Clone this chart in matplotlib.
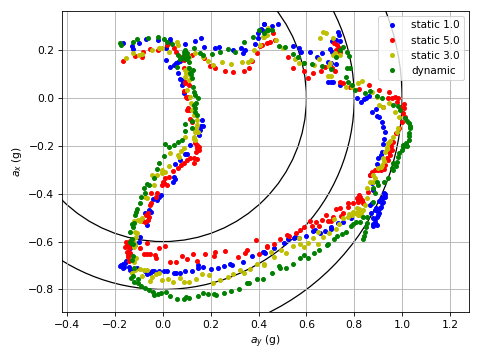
import matplotlib
matplotlib.use("Agg")
import matplotlib.pyplot as plt
from matplotlib.patches import Circle

radii = [0.6, 0.8, 1.0]
labels = ["static 1.0", "static 5.0", "static 3.0", "dynamic"]

static_1 = [(-.169,.231),(-.131,.217),(-.125,.203),(-.102,.228),(-.070,.248),(-.022,.242),(.031,.245),(.031,.235),(.093,.227),(.135,.238),(.160,.251),(.171,.212),(.013,.208),(.014,.159),(.031,.128),(.047,.138),(.056,.148),(.065,.152),(.072,.155),(.065,.103),(.079,.075),(.079,.054),(.086,.019),(.072,.080),(.085,.065),(.163,-.092),(.159,-.117),(.167,-.117),(.156,-.134),(.152,-.155),(.114,-.196),(.100,-.235),(.091,-.235),(.070,-.259),(.049,-.276),(.219,.209),(.233,.212),(.291,.201),(.327,.208),(.333,.189),(.345,.201),(.387,.224),(.396,.273),(.421,.309),(.411,.287),(.398,.249),
(.421,.311),(.415,.285),(.455,.301),(.480,.309),(.543,.219),(.571,.210),(.576,.193),(.614,.192),(.644,.173),(.664,.189),(.706,.240),(.731,.277),(.735,.263),(.741,.240),(.724,.242),(.699,.205),(.706,.194),(.692,.152),(.702,.145),(.724,.141),(.692,.068),(.702,.068),(.710,.068),(.741,.054),(.813,0),(.829,-.015),(.839,-.004),(.848,-.001),(.863,.008),(.873,-.057),(.890,-.045),(.894,-.074),(.905,-.081),(.915,-.099),(.922,-.120),(.929,-.141),(.925,-.173),(.922,-.194),(.915,-.224),(.911,-.238),(.901,-.249),(.894,-.276),
(.866,-.322),(.873,-.357),(.880,-.384),(.873,-.440),(.866,-.447),(.925,-.395),(.922,-.412),(.919,-.433),(.911,-.454),(.901,-.475),(.894,-.496),(.887,-.517),(.880,-.535),(.894,-.530),(.905,-.482),(.915,-.440),(.929,-.412),(.930,-.400),(.915,-.420),(.908,-.460),(.899,-.490),(.887,-.505),(.877,-.525),(.885,-.470),(.878,-.500),(.892,-.460),(.905,-.430),(.871,-.480),
(.785,-.503),(.755,-.517),(.734,-.521),(.702,-.540),(.702,-.548),(.678,-.556),(.657,-.563),(.636,-.552),(.629,-.556),(.599,-.577),(.567,-.586),(.553,-.579),(.550,-.586),(.525,-.590),(.507,-.604),(.465,-.628),(.427,-.649),(.418,-.642),
(.421,-.642),(.372,-.660),(.333,-.684),(.290,-.698),(.279,-.694),(.256,-.702),(.230,-.709),(.199,-.713),(.166,-.707),(.148,-.698),(.146,-.709),(.121,-.721),(.091,-.725),(.072,-.733),(.056,-.733),(.045,-.733),(.019,-.725),(.003,-.725),(-.018,-.725),(-.036,-.723),(-.046,-.721),(-.053,-.733),(-.067,-.737),(-.077,-.725),(-.109,-.712),(-.136,-.719),(-.143,-.708),(-.162,-.705),(-.174,-.700),(-.167,-.709),(-.157,-.691),(-.153,-.680),(-.180,-.703),(-.165,-.695),
(-.143,-.649),(-.136,-.628),(-.116,-.614),(-.095,-.582),(-.102,-.600),(-.067,-.530),(-.074,-.482),(-.049,-.475),(-.060,-.468),(-.042,-.423),(-.025,-.426),(-.008,-.405),(-.018,-.412),(.042,-.352),(.047,-.329),(.052,-.340)]

static_5 = [(-.167,.156),(-.118,.177),(-.088,.173),(-.084,.194),(-.056,.203),(-.021,.201),(.019,.221),(.045,.208),(.056,.194),(.079,.173),(.086,.159),(.121,.180),(.170,.166),(.198,.135),(.217,.125),(.260,.114),(.291,.107),(.341,.113),(.359,.125),(.373,.156),(.393,.189),(.414,.221),(.435,.228),(.449,.235),
(.086,.124),(.107,.054),(.093,.061),(.086,.031),(.100,-.001),(.103,-.043),(.100,-.050),(.114,-.089),(.121,-.099),(.142,-.203),(.135,-.189),(.149,-.217),(.139,-.224),(.131,-.252),(.128,-.270),(.142,-.256),(.114,-.252),(.100,-.259),(.086,-.270),(.075,-.280),(.065,-.294),(.093,.068),(.107,.006),(.098,.005),(.142,-.210),(.151,-.203),(.108,-.050),(.144,-.195),
(.407,.217),(.462,.270),(.469,.242),(.525,.173),(.543,.125),(.588,.113),(.606,.084),(.627,.106),(.660,.114),(.678,.131),(.706,.124),(.720,.114),(.716,.228),(.730,.221),(.738,.208),(.724,.201),(.741,.194),(.741,.068),(.755,.061),(.783,.045),(.822,.039),(.862,.053),(.905,.033),(.945,.025),(.957,-.001),(.971,.003),(.981,-.001),(.980,-.015),(.992,-.036),(1.008,-.026),(1.008,-.043),(1.005,-.064),(1.012,-.078),(.998,-.099),(.989,-.127),(.975,-.148),(.964,-.182),(.957,-.217),(.950,-.238),(.943,-.259),(.929,-.280),(.887,-.301),(.942,-.001),(.921,-.039),(.955,-.200),(.945,-.225),(.935,-.250),(.925,-.295),(.910,-.300),(.900,-.300),
(.810,-.419),(.822,-.405),(.831,-.426),(.838,-.440),(.817,-.433),(.859,-.392),(.866,-.322),(.873,-.308),(.775,-.440),(.793,-.440),(.772,-.454),(.741,-.461),(.724,-.465),(.755,-.479),(.745,-.492),(.710,-.498),(.692,-.512),(.702,-.512),(.681,-.489),(.664,-.510),(.639,-.517),(.613,-.514),(.622,-.537),(.653,-.533),(.588,-.540),(.574,-.552),(.556,-.566),(.529,-.575),(.518,-.574),(.490,-.589),(.466,-.610),(.435,-.621),(.825,-.415),(.815,-.425),
(.389,-.593),(.435,-.618),(.400,-.652),(.351,-.635),(.344,-.649),(.316,-.666),(.260,-.639),(.219,-.645),(.214,-.659),(.177,-.653),(.142,-.681),(.125,-.653),(.100,-.673),(.079,-.660),(.054,-.687),(.028,-.684),(.010,-.618),(-.018,-.628),(-.028,-.670),(-.035,-.656),(-.056,-.652),(-.067,-.653),(-.081,-.654),(-.067,-.607),(-.097,-.628),
(-.153,-.600),(-.139,-.596),(-.157,-.624),(-.143,-.628),(-.150,-.642),(-.136,-.649),(-.146,-.666),(-.143,-.680),(-.136,-.610),(-.150,-.615),(-.147,-.655),
(-.084,-.516),(-.063,-.510),(-.060,-.496),(-.064,-.482),(-.053,-.447),(-.049,-.440),(-.028,-.412),(-.025,-.395),(-.050,-.398),(-.004,-.363),(.006,-.356),(.017,-.363),(.010,-.335),(.024,-.331),(.042,-.304),(-.070,-.490),(-.075,-.520),(.000,-.350)]

static_3 = [(-.155,.169),(-.125,.189),(-.102,.180),(-.088,.184),(-.046,.201),(-.018,.208),(-.002,.208),(.026,.191),(.058,.235),(.065,.221),(.107,.173),(.135,.187),(.167,.173),(.188,.155),(.209,.138),(.248,.149),(.286,.142),(.329,.152),(.354,.152),(.368,.159),(.379,.201),(.404,.221),(.421,.253),(.441,.291),
(.093,.117),(.114,.110),(.093,.089),(.100,.033),(.114,.006),(.117,-.022),(.128,-.071),(.142,-.113),(.135,-.141),(.128,-.162),(.135,-.175),(.093,-.164),(.086,-.210),(.065,-.238),(.031,-.228),(.026,-.283),(-.004,-.301),(.114,.096),(.121,-.050),(.142,-.092),(.145,-.141),(.095,.105),(.105,.125),(.110,.075),(.125,-.030),(.130,-.170),(.075,-.220),(.068,-.245),(.140,-.125),
(.420,.256),(.434,.263),(.471,.242),(.504,.208),(.553,.162),(.571,.145),(.590,.145),(.632,.138),(.651,.163),(.658,.249),(.669,.277),(.681,.270),(.692,.092),(.702,.092),(.699,.145),(.695,.135),(.713,.249),(.713,.180),(.720,.187),(.741,.180),(.766,.045),(.790,.047),(.817,.061),(.831,.071),(.873,.025),(.894,.006),(.904,-.029),(.920,-.039),(.945,-.022),(.971,-.060),(.989,-.078),(.985,-.127),(.977,-.141),(.964,-.162),(.943,-.189),(.936,-.203),(.929,-.224),(.922,-.252),(.915,-.280),(.901,-.294),(.950,-.180),(.935,-.215),(.925,-.265),(.910,-.290),
(.880,-.322),(.887,-.336),(.866,-.350),(.880,-.350),(.855,-.377),(.852,-.419),(.845,-.447),(.810,-.461),(.817,-.475),(.824,-.489),(.803,-.482),(.789,-.489),(.775,-.496),(.755,-.503),(.738,-.526),(.716,-.507),(.724,-.548),(.695,-.563),(.671,-.580),(.650,-.559),(.650,-.610),(.629,-.586),(.608,-.605),(.588,-.624),(.574,-.610),(.567,-.583),(.546,-.617),(.513,-.646),(.494,-.635),(.463,-.666),(.453,-.645),(.423,-.698),(.820,-.465),(.830,-.480),(.815,-.490),(.835,-.470),(.795,-.475),(.780,-.485),
(.421,-.694),(.393,-.695),(.365,-.714),(.337,-.730),(.323,-.719),(.291,-.735),(.272,-.749),(.237,-.762),(.208,-.774),(.192,-.740),(.164,-.737),(.138,-.756),(.111,-.767),(.086,-.767),(.070,-.752),(.042,-.767),(.021,-.756),(-.004,-.760),(-.018,-.733),(-.028,-.735),(-.046,-.746),(-.053,-.763),(-.088,-.744),(-.067,-.719),(-.081,-.719),(-.097,-.716),(-.116,-.719),(-.130,-.733),
(-.123,-.684),(-.111,-.670),(-.123,-.621),(-.116,-.614),(-.111,-.579),(-.116,-.558),(-.123,-.516),(-.106,-.510),(-.088,-.503),(-.098,-.516),(-.074,-.412),(-.067,-.419),(-.039,-.363),(-.025,-.322),(-.046,-.322),(-.004,-.312),(.010,-.308),(-.120,-.600),(-.110,-.565)]

dynamic = [(-.178,.228),(-.174,.221),(-.125,.234),(-.109,.247),(-.063,.252),(-.022,.253),(.003,.245),(.017,.235),(.038,.224),(.061,.180),(.079,.166),(.093,.201),(.100,.187),(.128,.208),(.153,.189),(.167,.180),(.205,.182),(.237,.191),(.273,.203),(.302,.194),(.341,.233),(.375,.256),(.400,.284),(.421,.270),(.441,.284),
(.072,.162),(.107,.152),(.103,.173),(.111,.124),(.125,.117),(.121,.082),(.124,.047),(.135,.013),(.145,-.001),(.139,-.022),(.135,-.043),(.142,-.071),(.121,-.095),(.093,-.109),(.091,-.136),(.121,-.127),(.079,-.175),(.065,-.182),(.047,-.196),(.024,-.203),(.010,-.192),(.006,-.242),(-.015,-.273),(-.025,-.297),(.058,.131),(.086,.194),(.090,.180),(.098,.165),(.115,.105),(.118,.100),(.128,.025),(.130,-.030),(.132,-.060),
(.434,.284),(.455,.284),(.486,.219),(.511,.214),(.543,.183),(.564,.170),(.592,.145),(.622,.141),(.667,.135),(.702,.121),(.724,.170),(.741,.201),(.755,.214),(.771,.194),(.780,.176),(.769,.127),(.783,.125),(.766,.089),(.776,.068),(.790,.054),(.804,.033),(.845,.022),(.866,.031),(.894,.010),(.915,.001),(.964,-.029),(.985,-.033),(.992,-.050),(1.012,-.085),(1.027,-.106),(1.033,-.127),(1.031,-.148),(1.027,-.175),(1.020,-.201),(1.003,-.203),(.999,-.217),(.989,-.231),(.985,-.245),(.978,-.266),(.964,-.273),(.960,-.294),(1.020,-.095),(1.035,-.115),(1.030,-.160),(1.015,-.190),(1.005,-.195),(.975,-.285),
(.964,-.301),(.942,-.336),(.925,-.350),(.895,-.350),(.901,-.363),(.880,-.377),(.887,-.395),(.880,-.433),(.852,-.496),(.838,-.496),(.824,-.517),(.808,-.519),(.855,-.524),(.845,-.559),(.835,-.589),(.785,-.537),(.766,-.558),(.748,-.568),(.730,-.577),(.716,-.589),(.692,-.610),(.686,-.614),(.654,-.635),(.632,-.646),(.605,-.667),(.588,-.656),(.574,-.667),(.542,-.695),(.513,-.712),(.490,-.712),(.486,-.702),(.458,-.733),(.418,-.758),(.850,-.540),(.842,-.575),(.795,-.525),
(.393,-.758),(.361,-.773),(.351,-.772),(.319,-.798),(.286,-.805),(.255,-.817),(.221,-.823),(.212,-.820),(.188,-.820),(.167,-.817),(.146,-.827),(.110,-.837),(.097,-.833),(.086,-.840),(.058,-.841),(.028,-.827),(.014,-.812),(-.007,-.816),(-.022,-.819),(-.036,-.823),(-.042,-.809),(-.060,-.802),(-.074,-.795),(-.092,-.785),(-.106,-.772),(-.123,-.767),(-.134,-.753),(-.106,-.758),(-.125,-.744),
(-.123,-.712),(-.130,-.677),(-.125,-.660),(-.136,-.600),(-.130,-.590),(-.139,-.561),(-.125,-.540),(-.123,-.524),(-.116,-.489),(-.109,-.465),(-.098,-.440),(-.092,-.412),(-.074,-.395),(-.067,-.359),(-.060,-.363),(-.039,-.335),(-.132,-.605),(-.125,-.610),(-.128,-.525),(-.112,-.478),(-.078,-.375)]

series = [static_1, static_5, static_3, dynamic]
fmts = ["b.", "r.", "y.", "g."]

fig = plt.figure(figsize=(6.4, 4.8), dpi=75)
ax = fig.add_axes([61.7/480, 1-312.3/360, (469-61.7)/480, (312.3-11)/360])
for r in radii:
    ax.add_patch(Circle((0, 0), r, fill=False, ec="k", lw=1.2))
for pts, fmt, lab in zip(series, fmts, labels):
    xs, ys = zip(*pts)
    ax.plot(xs, ys, fmt, label=lab, ms=7.5)
ax.set_xlim(-0.4234, 1.28)
ax.set_ylim(-0.8956, 0.3636)
ax.grid(True)
ax.tick_params(labelsize=10.3)
ax.set_xlabel("$a_y$ (g)", fontsize=10.3)
ax.set_ylabel("$a_x$ (g)", fontsize=10.3)
ax.legend(loc="upper right")
fig.savefig("out.png", dpi=75)
